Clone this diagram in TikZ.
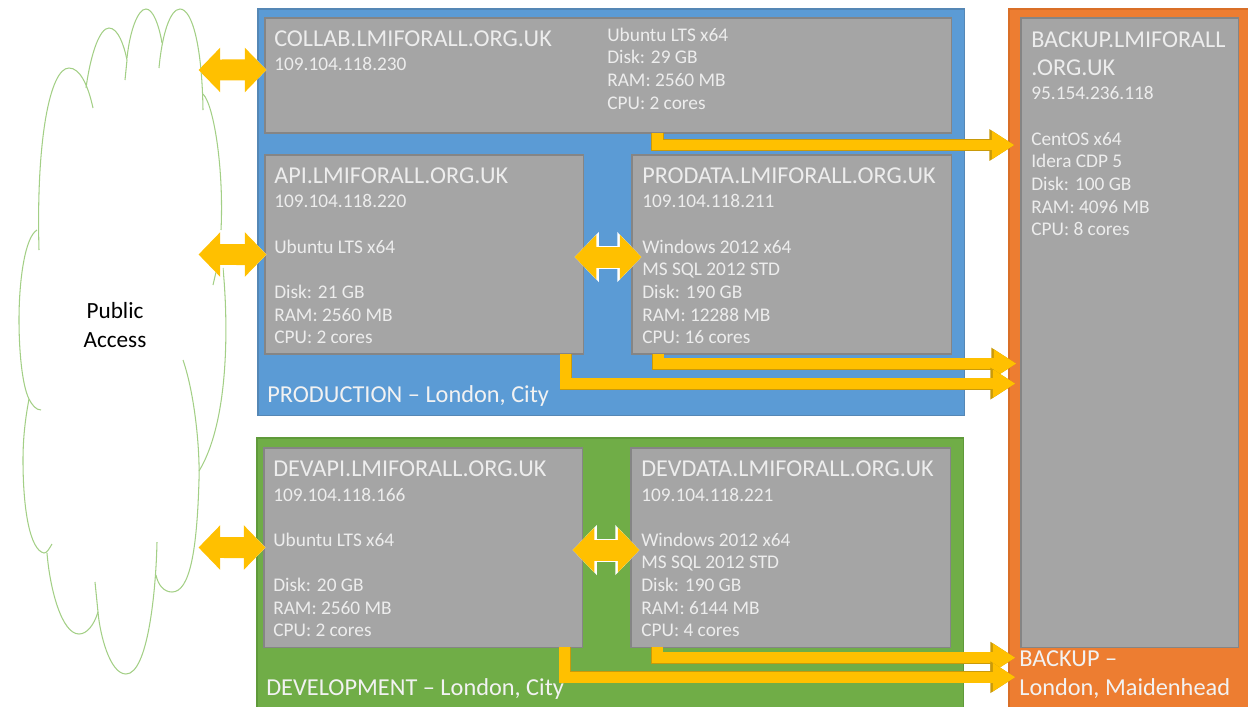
\documentclass[tikz,border=0pt]{standalone}
\usepackage{fontspec}
\setmainfont{Carlito}
\usetikzlibrary{arrows.meta}
\definecolor{prodblue}{HTML}{5B9BD5}
\definecolor{prodedge}{HTML}{5587B5}
\definecolor{devgreen}{HTML}{70AD47}
\definecolor{devedge}{HTML}{5F9A3A}
\definecolor{backorange}{HTML}{ED7D31}
\definecolor{backedge}{HTML}{D96F28}
\definecolor{vmgray}{HTML}{A5A5A5}
\definecolor{vmedge}{HTML}{858585}
\definecolor{gold}{HTML}{FFC000}
\definecolor{golddark}{HTML}{C99A0A}
\definecolor{softwhite}{HTML}{EDEDED}
\definecolor{cloudgreen}{HTML}{A3CF86}
\tikzset{
  zone/.style={draw, anchor=north west, outer sep=0pt, inner sep=0pt, line width=0.8pt},
  vmbox/.style={draw=vmedge, fill=vmgray, anchor=north west, outer sep=0pt, inner sep=0pt, line width=0.8pt},
  vmname/.style={anchor=base west, inner sep=0pt, text=softwhite, font=\fontsize{17.2}{20}\selectfont},
  vmtext/.style={anchor=north west, inner sep=0pt, align=left, text=softwhite, font=\fontsize{13.75}{16.1}\selectfont},
  zonename/.style={anchor=base west, inner sep=0pt, text=white!95!black, font=\fontsize{17.3}{20}\selectfont},
  cloudline/.style={draw=cloudgreen, line width=0.75pt},
  busarrow/.style={
    preaction={draw=golddark, line width=8.6pt, -{Triangle[length=17.7pt,width=21.3pt]}},
    draw=gold, line width=7.7pt, -{Triangle[length=15.9pt,width=19pt]}, shorten >=1.2pt},
  twoway/.style={
    preaction={draw=white, line width=16.4pt, {Triangle[length=17.2pt,width=34.6pt]}-{Triangle[length=17.2pt,width=34.6pt]}},
    draw=gold, line width=14.9pt, {Triangle[length=15.4pt,width=30.8pt]}-{Triangle[length=15.4pt,width=30.8pt]}, shorten >=1.1pt, shorten <=1.1pt}
}
\begin{document}
\begin{tikzpicture}[x=0.025cm, y=-0.025cm]
  \useasboundingbox (0,0) rectangle (1248,706);

  \draw[cloudline] (39,250) .. controls (36,140) and (50,68) .. (69,68) .. controls (80,68) and (88,85) .. (93,108);
  \draw[cloudline] (86,88) .. controls (91,52) and (100,28) .. (109,28) .. controls (118,28) and (124,45) .. (127,60) -- (125,80);
  \draw[cloudline] (127,58) .. controls (130,30) and (138,9) .. (146,9) .. controls (153,9) and (159,25) .. (162,43);
  \draw[cloudline] (159,68) .. controls (162,35) and (170,9) .. (180,9) .. controls (192,9) and (202,45) .. (203,110);
  \draw[cloudline] (203,94) .. controls (214,105) and (224,170) .. (221,230);
  \draw[cloudline] (216,272) -- (213,285);
  \draw[cloudline] (223,268) .. controls (228,320) and (230,420) .. (199,471);
  \draw[cloudline] (183,360) .. controls (195,395) and (200,450) .. (199,480) .. controls (197,550) and (190,592) .. (172,592) .. controls (164,592) and (158,585) .. (156,575);
  \draw[cloudline] (157,542) .. controls (156,590) and (148,674) .. (126,674) .. controls (110,674) and (100,635) .. (98,612) -- (95,582);
  \draw[cloudline] (98,612) .. controls (94,625) and (87,634) .. (79,634) .. controls (62,634) and (50,590) .. (47,553);
  \draw[cloudline] (52,544) .. controls (49,549) and (47,553) .. (44,553) .. controls (30,550) and (23,510) .. (23,460) .. controls (23,435) and (26,415) .. (29,399);
  \draw[cloudline] (41,410) .. controls (36,410) and (32,405) .. (29,399) .. controls (22,385) and (19,350) .. (19,320) .. controls (19,280) and (25,237) .. (37,230);
  \node[align=center, inner sep=0pt, font=\fontsize{16.5}{20.8}\selectfont] (public) at (115,325) {Public\\Access};

  \node[zone, fill=prodblue, draw=prodedge, minimum width=17.65cm, minimum height=10.15cm] (production) at (258,9) {};
  \node[zone, fill=devgreen, draw=devedge, minimum width=17.65cm, minimum height=6.8cm] (development) at (257,438) {};
  \node[zone, fill=backorange, draw=backedge, minimum width=6.1cm, minimum height=17.6cm] (backup) at (1009,9) {};

  \node[vmbox, minimum width=17.15cm, minimum height=2.875cm] (collab) at (265,18) {};
  \node[vmbox, minimum width=7.95cm, minimum height=4.975cm] (api) at (265,155) {};
  \node[vmbox, minimum width=7.975cm, minimum height=4.975cm] (prodata) at (632,155) {};
  \node[vmbox, minimum width=7.95cm, minimum height=4.975cm] (devapi) at (264,448) {};
  \node[vmbox, minimum width=7.975cm, minimum height=4.975cm] (devdata) at (631,448) {};
  \node[vmbox, minimum width=5.43cm, minimum height=15.725cm] (backupvm) at (1021,18) {};

  \node[vmname] (collabname) at (274,46) {COLLAB.LMIFORALL.ORG.UK};
  \node[vmtext] (collabip) at (274,57.5) {109.104.118.230};
  \node[vmtext] (collabspec) at (607,27.5) {Ubuntu LTS x64\\Disk: 29 GB\\RAM: 2560 MB\\CPU: 2 cores};

  \node[vmname] (apiname) at (274,183) {API.LMIFORALL.ORG.UK};
  \node[vmtext] (apispec) at (274,194.5) {109.104.118.220\\\mbox{}\\Ubuntu LTS x64\\\mbox{}\\Disk: 21 GB\\RAM: 2560 MB\\CPU: 2 cores};

  \node[vmname] (prodataname) at (642,183) {PRODATA.LMIFORALL.ORG.UK};
  \node[vmtext] (prodataspec) at (642,194.5) {109.104.118.211\\\mbox{}\\Windows 2012 x64\\MS SQL 2012 STD\\Disk: 190 GB\\RAM: 12288 MB\\CPU: 16 cores};

  \node[vmname] (devapiname) at (273,476) {DEVAPI.LMIFORALL.ORG.UK};
  \node[vmtext] (devapispec) at (273,487.5) {109.104.118.166\\\mbox{}\\Ubuntu LTS x64\\\mbox{}\\Disk: 20 GB\\RAM: 2560 MB\\CPU: 2 cores};

  \node[vmname] (devdataname) at (641,476) {DEVDATA.LMIFORALL.ORG.UK};
  \node[vmtext] (devdataspec) at (641,487.5) {109.104.118.221\\\mbox{}\\Windows 2012 x64\\MS SQL 2012 STD\\Disk: 190 GB\\RAM: 6144 MB\\CPU: 4 cores};

  \node[vmname] (backupnameA) at (1031,47) {BACKUP.LMIFORALL};
  \node[vmname] (backupnameB) at (1031,75) {.ORG.UK};
  \node[vmtext] (backupspec) at (1031,86.5) {95.154.236.118\\\mbox{}\\CentOS x64\\Idera CDP 5\\Disk: 100 GB\\RAM: 4096 MB\\CPU: 8 cores};

  \node[zonename] (productionname) at (267,402.5) {PRODUCTION -- London, City};
  \node[zonename] (developmentname) at (266,695.5) {DEVELOPMENT -- London, City};
  \node[zonename] (backupnameC) at (1019,666.5) {BACKUP --};
  \node[zonename] (backupnameD) at (1019,695.5) {London, Maidenhead};

  \coordinate (cloudtop) at (197,70);
  \coordinate (cloudmid) at (197,254.5);
  \coordinate (cloudlow) at (197,547.5);

  \draw[busarrow] ([xshift=-7.34cm]collab.south east) |- ([xshift=0.175cm,yshift=5.4cm]backup.west);
  \draw[busarrow] ([xshift=0.66cm]prodata.south west) |- ([xshift=0.225cm,yshift=-0.0625cm]backup.west);
  \draw[busarrow] ([xshift=-0.43cm]api.south east) |- ([xshift=0.2cm,yshift=-0.5625cm]backup.west);
  \draw[busarrow] ([xshift=0.66cm]devdata.south west) |- ([xshift=0.2cm,yshift=-7.4125cm]backup.west);
  \draw[busarrow] ([xshift=-0.43cm]devapi.south east) |- ([xshift=0.2cm,yshift=-7.9cm]backup.west);

  \draw[twoway] (cloudtop) -- ([xshift=0.075cm,yshift=0.14cm]collab.west);
  \draw[twoway] (cloudmid) -- ([xshift=0.075cm]api.west);
  \draw[twoway] (cloudlow) -- ([xshift=0.075cm]devapi.west);
  \draw[twoway] ([xshift=-0.25cm,yshift=-0.0625cm]api.east) -- ([xshift=0.275cm,yshift=-0.0625cm]prodata.west);
  \draw[twoway] ([xshift=-0.275cm,yshift=-0.0625cm]devapi.east) -- ([xshift=0.25cm,yshift=-0.0625cm]devdata.west);
\end{tikzpicture}
\end{document}
